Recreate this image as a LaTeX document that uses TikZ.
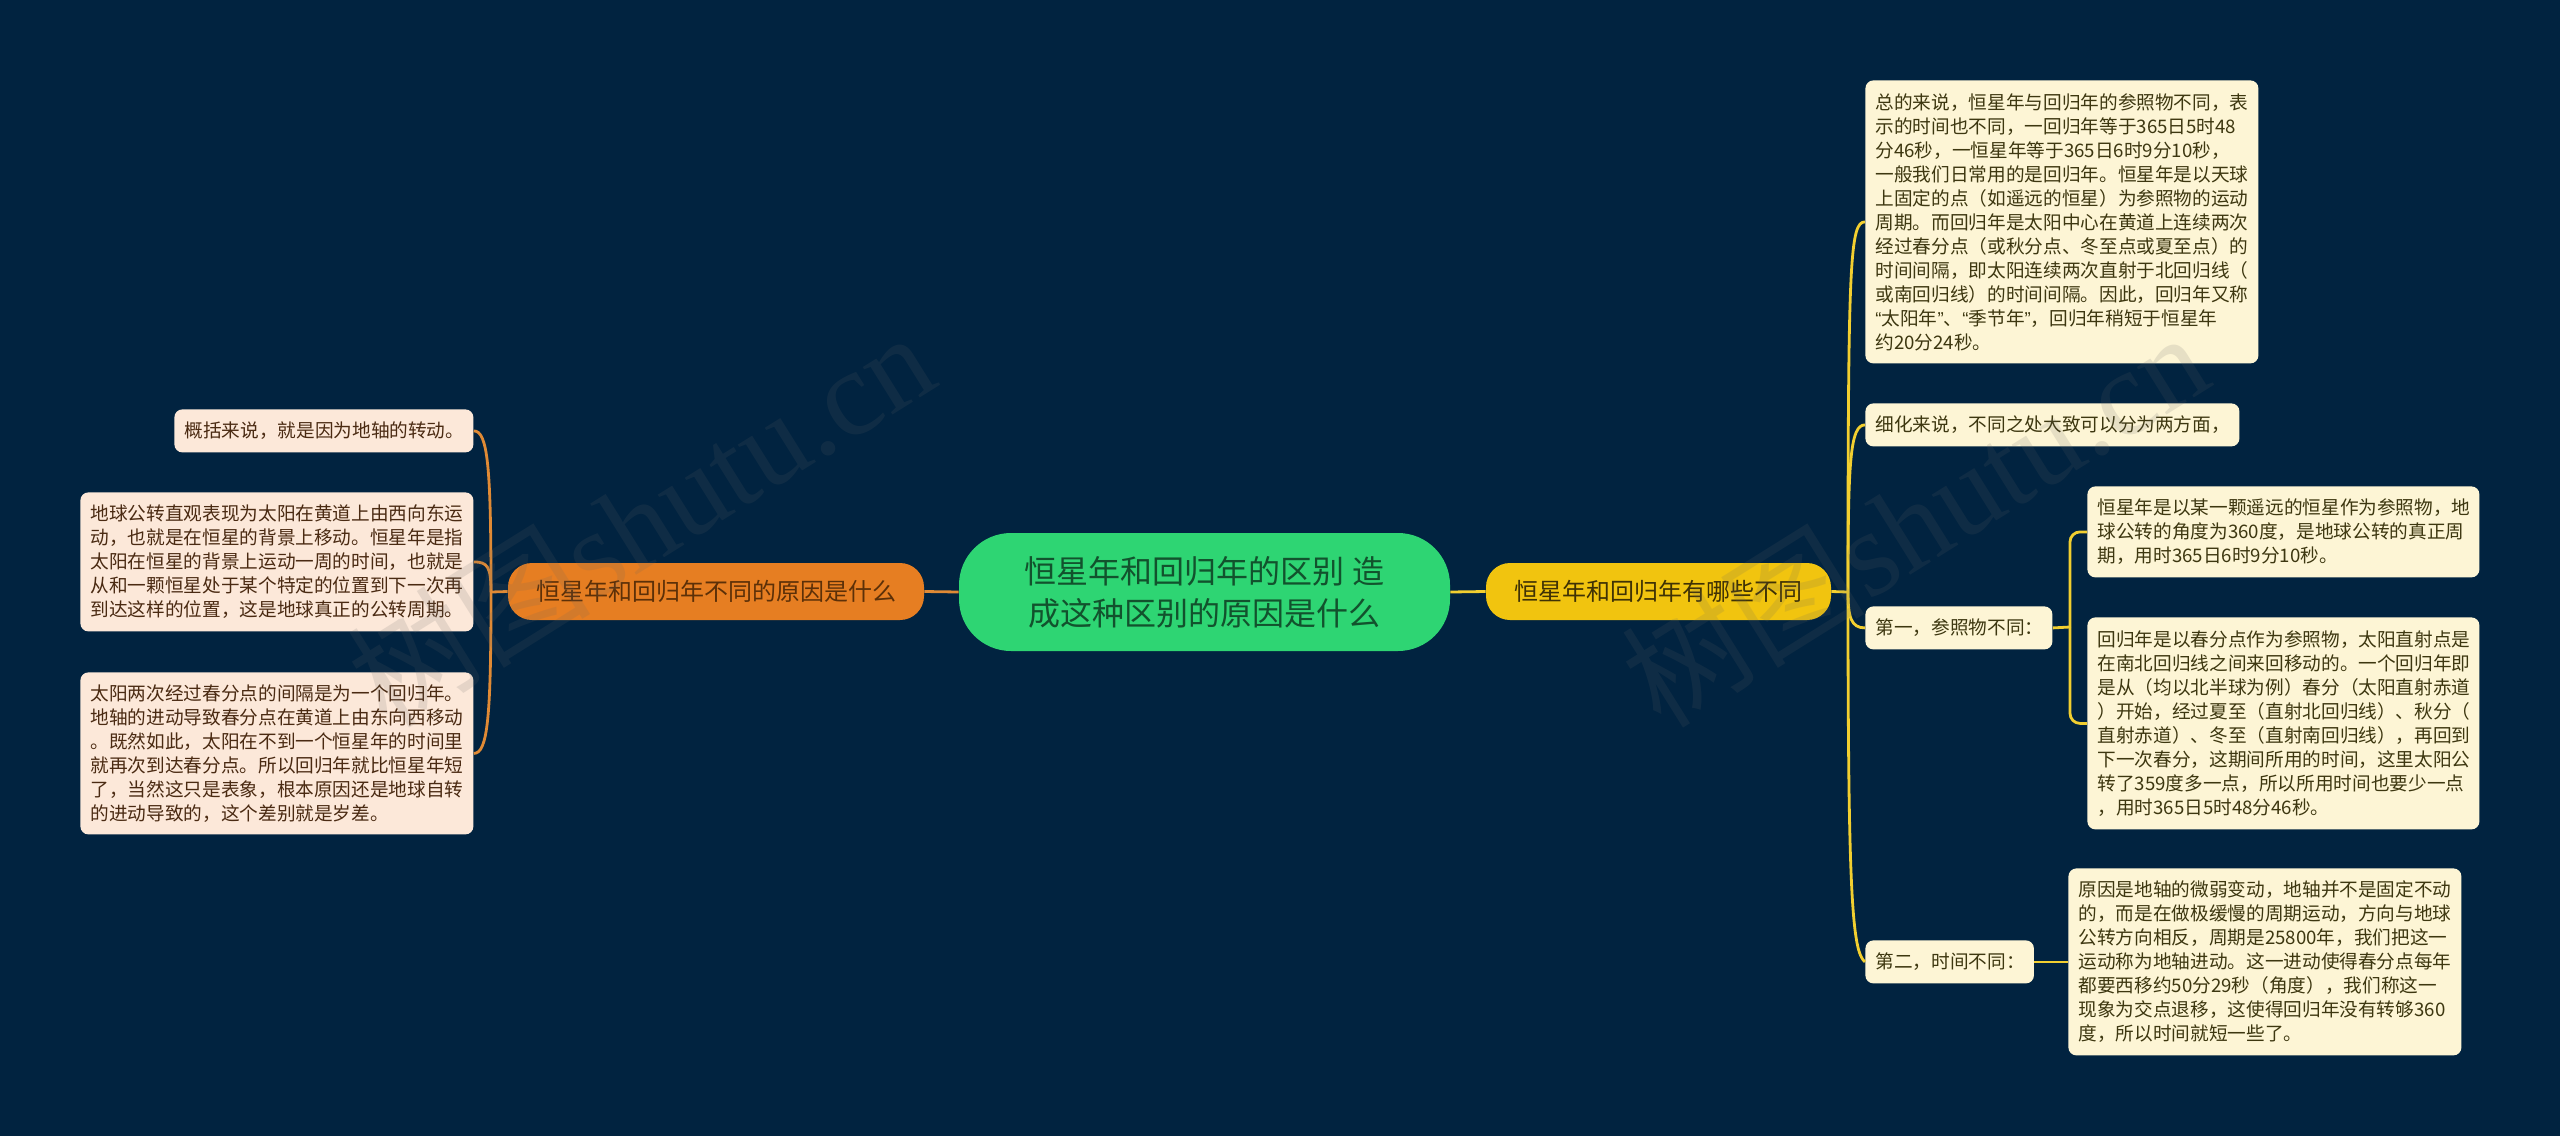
\documentclass[tikz,border=0pt]{standalone}
\usepackage{fontspec}
\setmainfont{Noto Sans CJK SC}
\newfontfamily\wmlatin{Liberation Serif}
\newfontfamily\qfont{Liberation Sans}
\usetikzlibrary{calc}
\definecolor{bgc}{HTML}{012340}
\definecolor{greenc}{HTML}{2ED573}
\definecolor{orangec}{HTML}{E67E22}
\definecolor{yellowc}{HTML}{F1C40F}
\definecolor{rboxc}{HTML}{FDF5D5}
\definecolor{lboxc}{HTML}{FCE8D9}
\definecolor{rtext}{HTML}{3D3710}
\definecolor{ltext}{HTML}{4A2A12}
\definecolor{gtext}{HTML}{12522D}
\definecolor{otext}{HTML}{5C3008}
\definecolor{ytext}{HTML}{3F3205}
\definecolor{lline}{HTML}{E08A35}
\definecolor{rline}{HTML}{F2CF30}
\definecolor{wmc}{HTML}{646464}
\tikzset{
  base/.style={anchor=north west,inner ysep=0pt,inner xsep=5pt,align=left,font=\fontsize{9.33pt}{12pt}\selectfont,rounded corners=4pt},
  rbox/.style={base,fill=rboxc,text=rtext},
  lbox/.style={base,fill=lboxc,text=ltext},
  pill/.style={anchor=center,inner sep=0pt,align=center,rounded corners=12pt,font=\fontsize{12pt}{16pt}\selectfont},
  rcon/.style={draw=rline,line width=1.4pt},
  lcon/.style={draw=lline,line width=1.4pt},
  wm/.style={rotate=32,text=wmc,opacity=0.15,inner sep=0pt}
}
\begin{document}
\begin{tikzpicture}[x=0.5pt,y=-0.5pt]
\useasboundingbox (0,0) rectangle (2560,1136);
\fill[bgc] (0,0) rectangle (2560,1136);
\coordinate (jr) at (1848,592);
\coordinate (jl) at (491,592);
\coordinate (jf) at (2070,627);

\node[pill,fill=greenc,text=gtext,minimum width=245.5pt,minimum height=59pt,rounded corners=26pt,font=\fontsize{16pt}{21pt}\selectfont] (main) at (1204.5,592) {恒星年和回归年的区别 造\\成这种区别的原因是什么};
\node[pill,fill=orangec,text=otext,minimum width=208pt,minimum height=28.5pt] (orange) at (716,591.5) {恒星年和回归年不同的原因是什么};
\node[pill,fill=yellowc,text=ytext,minimum width=172.5pt,minimum height=28.5pt] (yellow) at (1658.5,591.5) {恒星年和回归年有哪些不同};

\node[rbox,text width=186.5pt,minimum height=141.5pt] (r1) at (1865,80) {总的来说，恒星年与回归年的参照物不同，表\\示的时间也不同，一回归年等于365日5时48\\分46秒，一恒星年等于365日6时9分10秒，\\一般我们日常用的是回归年。恒星年是以天球\\上固定的点（如遥远的恒星）为参照物的运动\\周期。而回归年是太阳中心在黄道上连续两次\\经过春分点（或秋分点、冬至点或夏至点）的\\时间间隔，即太阳连续两次直射于北回归线（\\或南回归线）的时间间隔。因此，回归年又称\\{\qfont“}太阳年{\qfont”}、{\qfont“}季节年{\qfont”}，回归年稍短于恒星年\\约20分24秒。};
\node[rbox,text width=177pt,minimum height=21.5pt] (r2) at (1865,403) {细化来说，不同之处大致可以分为两方面，};
\node[rbox,text width=83.5pt,minimum height=21.5pt] (r3) at (1865,606) {第一，参照物不同：};
\node[rbox,text width=74.25pt,minimum height=21.5pt] (r4) at (1865,940) {第二，时间不同：};
\node[rbox,text width=186pt,minimum height=45.5pt] (r3a) at (2087,486) {恒星年是以某一颗遥远的恒星作为参照物，地\\球公转的角度为360度，是地球公转的真正周\\期，用时365日6时9分10秒。};
\node[rbox,text width=186pt,minimum height=106pt] (r3b) at (2087,617) {回归年是以春分点作为参照物，太阳直射点是\\在南北回归线之间来回移动的。一个回归年即\\是从（均以北半球为例）春分（太阳直射赤道\\）开始，经过夏至（直射北回归线）、秋分（\\直射赤道）、冬至（直射南回归线），再回到\\下一次春分，这期间所用的时间，这里太阳公\\转了359度多一点，所以所用时间也要少一点\\，用时365日5时48分46秒。};
\node[rbox,text width=186.5pt,minimum height=93.5pt] (r4a) at (2068,868) {原因是地轴的微弱变动，地轴并不是固定不动\\的，而是在做极缓慢的周期运动，方向与地球\\公转方向相反，周期是25800年，我们把这一\\运动称为地轴进动。这一进动使得春分点每年\\都要西移约50分29秒（角度），我们称这一\\现象为交点退移，这使得回归年没有转够360\\度，所以时间就短一些了。};

\node[lbox,text width=139.5pt,minimum height=21.5pt] (l1) at (174,409) {概括来说，就是因为地轴的转动。};
\node[lbox,text width=186.5pt,minimum height=69.5pt] (l2) at (80,492) {地球公转直观表现为太阳在黄道上由西向东运\\动，也就是在恒星的背景上移动。恒星年是指\\太阳在恒星的背景上运动一周的时间，也就是\\从和一颗恒星处于某个特定的位置到下一次再\\到达这样的位置，这是地球真正的公转周期。};
\node[lbox,text width=186.5pt,minimum height=81pt] (l3) at (80,672) {太阳两次经过春分点的间隔是为一个回归年。\\地轴的进动导致春分点在黄道上由东向西移动\\。既然如此，太阳在不到一个恒星年的时间里\\就再次到达春分点。所以回归年就比恒星年短\\了，当然这只是表象，根本原因还是地球自转\\的进动导致的，这个差别就是岁差。};

% connectors
\draw[lcon] (main.west) -- (orange.east);
\draw[rcon] (main.east) -- (yellow.west);
\draw[lcon] (orange.west) -- (jl);
\draw[rcon] (yellow.east) -- (jr);
\draw[lcon] (jl) .. controls +(0,-125) and +(14,0) .. (l1.east);
\draw[lcon] (jl) .. controls +(0,-25) and +(14,0) .. (l2.east);
\draw[lcon] (jl) .. controls +(0,125) and +(14,0) .. (l3.east);
\draw[rcon] (jr) .. controls +(0,-332) and +(-15,0) .. (r1.west);
\draw[rcon] (jr) .. controls +(0,-130) and +(-15,0) .. (r2.west);
\draw[rcon] (jr) .. controls +(0,25) and +(-14,0) .. (r3.west);
\draw[rcon] (jr) .. controls +(0,300) and +(-13,-10) .. (r4.west);
\draw[rcon] (r3.east) -- (jf);
\draw[rcon,rounded corners=5pt] (jf) |- (r3a.west);
\draw[rcon,rounded corners=5pt] (jf) |- (r3b.west);
\draw[rcon] (r4.east) -- (r4a.west);

% watermark
\node[wm] (wm1) at (640,518) {\fontsize{61pt}{63pt}\selectfont 树图{\wmlatin shutu.cn}};
\node[wm] (wm2) at (1914,518) {\fontsize{61pt}{63pt}\selectfont 树图{\wmlatin shutu.cn}};
\end{tikzpicture}
\end{document}
